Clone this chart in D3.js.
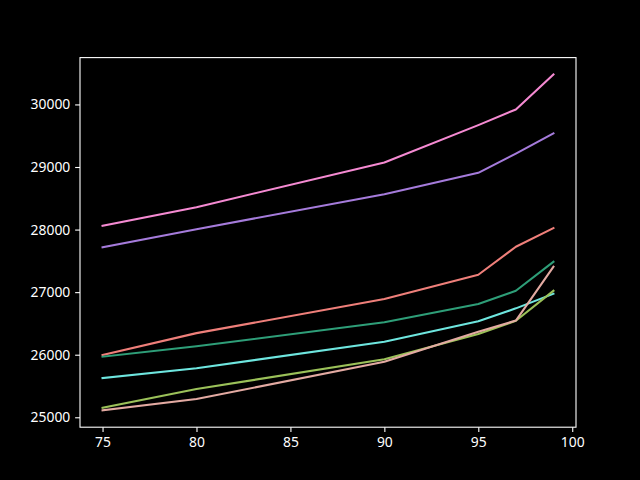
<!DOCTYPE html>
<html>
<head>
<meta charset="utf-8">
<script src="https://cdn.jsdelivr.net/npm/d3@7"></script>
<style>
  html, body { margin: 0; padding: 0; background: #000; }
  svg { display: block; }
</style>
</head>
<body>
<svg id="chart" width="640" height="480"></svg>
<script>
const xValues = [75, 80, 90, 95, 97, 99];
const xTicks = [75, 80, 85, 90, 95, 100];
const yTicks = [25000, 26000, 27000, 28000, 29000, 30000];

const seriesNames = ["pink", "purple", "salmon", "teal", "cyan", "olive", "tan"];
const seriesColors = ["#f58ad2", "#a57bdb", "#ef7f7a", "#2e9e78", "#6ee6df", "#9bc159", "#e3aaa2"];
const pinkValues   = [28061, 28357, 29073, 29669, 29920, 30480];
const purpleValues = [27716, 28005, 28565, 28907, 29214, 29537];
const salmonValues = [25995, 26345, 26890, 27278, 27725, 28024];
const tealValues   = [25968, 26134, 26518, 26810, 27022, 27486];
const cyanValues   = [25628, 25783, 26208, 26534, 26741, 26974];
const oliveValues  = [25153, 25452, 25926, 26330, 26543, 27022];
const tanValues    = [25110, 25292, 25888, 26367, 26545, 27406];
const allSeries = [pinkValues, purpleValues, salmonValues, tealValues, cyanValues, oliveValues, tanValues];

(function () {
const svg = d3.select("#chart");
const mLeft = 80, mRight = 576, mTop = 57.6, mBottom = 427.2;

const xMin = d3.min(xValues), xMax = d3.max(xValues);
const xPad = (xMax - xMin) * 0.05;
const x = d3.scaleLinear().domain([xMin - xPad, xMax + xPad]).range([mLeft, mRight]);

const allY = allSeries.flat();
const yMin = d3.min(allY), yMax = d3.max(allY);
const yPad = (yMax - yMin) * 0.05;
const y = d3.scaleLinear().domain([yMin - yPad, yMax + yPad]).range([mBottom, mTop]);

const font = "'Noto Sans', 'Open Sans', sans-serif";

const line = d3.line().x((d, i) => x(xValues[i])).y(d => y(d));
const g = svg.append("g");
allSeries.forEach((vals, k) => {
  g.append("path")
    .datum(vals)
    .attr("d", line)
    .attr("fill", "none")
    .attr("stroke", seriesColors[k])
    .attr("stroke-width", 2.08)
    .attr("stroke-linejoin", "round")
    .attr("stroke-linecap", "square");
});

svg.append("rect")
  .attr("x", mLeft).attr("y", mTop)
  .attr("width", mRight - mLeft).attr("height", mBottom - mTop)
  .attr("fill", "none").attr("stroke", "#fff").attr("stroke-width", 1.1);

const xAxis = d3.axisBottom(x).tickValues(xTicks).tickSize(4.86).tickPadding(4.86).tickFormat(d3.format("d"));
const gx = svg.append("g").attr("transform", `translate(0,${mBottom})`).call(xAxis);
gx.select(".domain").remove();
gx.selectAll(".tick line").attr("stroke", "#fff").attr("stroke-width", 1.1);
gx.selectAll(".tick text").attr("fill", "#fff").attr("font-family", font).attr("font-size", 13.9);

const yAxis = d3.axisLeft(y).tickValues(yTicks).tickSize(4.86).tickPadding(4.86).tickFormat(d3.format("d"));
const gy = svg.append("g").attr("transform", `translate(${mLeft},0)`).call(yAxis);
gy.select(".domain").remove();
gy.selectAll(".tick line").attr("stroke", "#fff").attr("stroke-width", 1.1);
gy.selectAll(".tick text").attr("fill", "#fff").attr("font-family", font).attr("font-size", 13.9);
})();
</script>
</body>
</html>
